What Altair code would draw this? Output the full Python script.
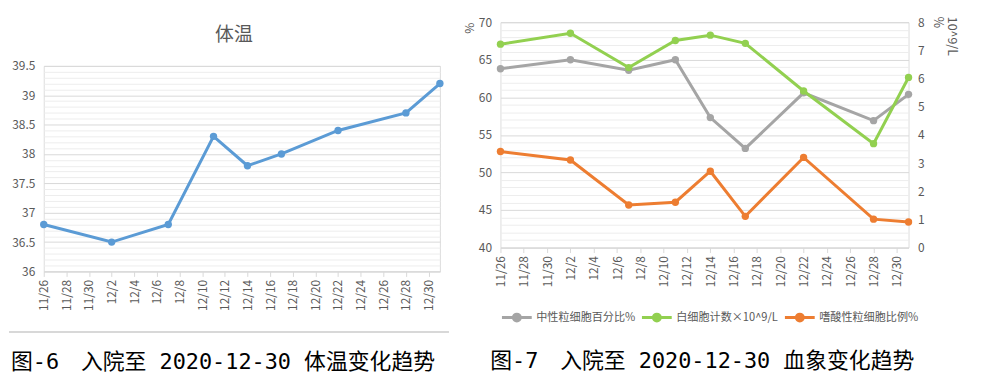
import altair as alt
import pandas as pd

# ---------------- data ----------------
dates = ["2020-11-26", "2020-12-02", "2020-12-07", "2020-12-11", "2020-12-14",
         "2020-12-17", "2020-12-22", "2020-12-28", "2020-12-31"]
temperature = [36.8, 36.5, 36.8, 38.3, 37.8, 38.0, 38.4, 38.7, 39.2]

neutrophil_pct = [63.8, 65.0, 63.6, 65.0, 57.3, 53.2, 60.6, 56.9, 60.4]
wbc_count = [7.22, 7.61, 6.39, 7.35, 7.54, 7.25, 5.56, 3.69, 6.04]
eosinophil_pct = [3.41, 3.11, 1.51, 1.61, 2.71, 1.11, 3.20, 1.01, 0.91]

series_names = ["中性粒细胞百分比%", "白细胞计数×10^9/L", "嗜酸性粒细胞比例%"]
series_colors = ["#A5A5A5", "#92D050", "#ED7D31"]

tick_days = [(11, 26), (11, 28), (11, 30), (12, 2), (12, 4), (12, 6), (12, 8),
             (12, 10), (12, 12), (12, 14), (12, 16), (12, 18), (12, 20),
             (12, 22), (12, 24), (12, 26), (12, 28), (12, 30)]

temp_grid = [round(36 + i * 0.1, 1) for i in range(36)]
blood_grid = list(range(40, 71))
right_ticks = list(range(0, 9))

title_left = "体温"
caption_left = "图-6\u3000入院至 2020-12-30 体温变化趋势"
caption_right = "图-7\u3000入院至 2020-12-30 血象变化趋势"

FONT = "Noto Sans CJK SC"
CAP_FONT = "DejaVu Sans Mono, Noto Sans CJK SC"
GRID_MAJOR = "#D9D9D9"
GRID_MINOR = "#EDEDED"
TXT = "#595959"

temp_df = pd.DataFrame({"date": dates, "temp": temperature})
blood_df = pd.concat([
    pd.DataFrame({"date": dates, "value": neutrophil_pct, "series": series_names[0], "ax": "L"}),
    pd.DataFrame({"date": dates, "value": wbc_count, "series": series_names[1], "ax": "R"}),
    pd.DataFrame({"date": dates, "value": eosinophil_pct, "series": series_names[2], "ax": "R"}),
], ignore_index=True)


def dt(m, d):
    return alt.DateTime(year=2020, month=m, date=d, utc=True)


def x_enc():
    return alt.X(
        "date:T",
        scale=alt.Scale(type="utc", domain=[dt(11, 26), dt(12, 31)]),
        axis=alt.Axis(
            values=[dt(m, d) for m, d in tick_days],
            labelExpr="utcFormat(datum.value, '%-m/%-d')",
            labelAngle=270, labelOverlap=False, grid=False,
            domainColor=GRID_MAJOR, tickColor=GRID_MAJOR, tickSize=5,
            labelPadding=3, title=None,
        ),
    )


def grid_color(step):
    k = 1.0 / step
    return {"condition": {"test": f"abs(datum.value*{k}-round(datum.value*{k}))<0.001",
                          "value": GRID_MAJOR}, "value": GRID_MINOR}


def major_label(step):
    k = 1.0 / step
    return f"abs(datum.value*{k}-round(datum.value*{k}))<0.001 ? format(datum.value, '~g') : ''"


# ---------------- left panel: temperature ----------------
LW, LH = 399, 207
left_line = alt.Chart(temp_df).mark_line(
    color="#5B9BD5", strokeWidth=3,
    point=alt.OverlayMarkDef(filled=True, size=55, color="#5B9BD5"),
).encode(
    x=x_enc(),
    y=alt.Y("temp:Q", scale=alt.Scale(domain=[36, 39.5], nice=False, zero=False),
            axis=alt.Axis(values=temp_grid, grid=True, gridColor=grid_color(0.5),
                          labelExpr=major_label(0.5), labelOverlap=False,
                          ticks=False, domain=False, title=None, labelPadding=9)),
)
left_border = alt.Chart(temp_df).mark_rule(color=GRID_MAJOR, strokeWidth=1).encode(
    x=alt.value(-35), x2=alt.value(LW + 9), y=alt.value(LH + 61)
)
left_panel = alt.layer(left_line, left_border).properties(
    width=LW, height=LH,
    title=alt.Title(title_left, fontSize=19, color=TXT, font=FONT,
                    fontWeight="normal", offset=15, anchor="middle", dx=-8),
)
spacer = alt.Chart(temp_df).mark_rule(opacity=0, strokeWidth=0).encode(
    x=alt.value(0), y=alt.value(0)
).properties(width=1, height=6,
             view=alt.ViewBackground(stroke="transparent", strokeWidth=0, fill="transparent"))

left_col = alt.vconcat(spacer, left_panel, spacing=-3).properties(
    title=alt.Title(caption_left, orient="bottom", anchor="start", fontSize=22,
                    color="#000000", font=CAP_FONT, fontWeight="normal", offset=19,
                    dx=3)
)

# ---------------- right panel: blood ----------------
RW, RH = 411, 227
color_enc = alt.Color(
    "series:N",
    scale=alt.Scale(domain=series_names, range=series_colors),
    legend=alt.Legend(
        orient="bottom", direction="horizontal", title=None,
        symbolType="M-1,0L1,0M0.23,0A0.23,0.23,0,1,1,-0.23,0A0.23,0.23,0,1,1,0.23,0Z",
        symbolSize=900, symbolStrokeWidth=3, labelFontSize=11.2, labelColor=TXT,
        labelFont=FONT, columnPadding=0, labelOffset=3, offset=14, gridAlign="none",
    ),
)
r_left = alt.Chart(blood_df).transform_filter("datum.ax == 'L'").mark_line(
    strokeWidth=3, point=alt.OverlayMarkDef(filled=True, size=55),
).encode(
    x=x_enc(),
    y=alt.Y("value:Q", scale=alt.Scale(domain=[40, 70], nice=False, zero=False),
            axis=alt.Axis(values=blood_grid, grid=True, gridColor=grid_color(5),
                          labelExpr=major_label(5), labelOverlap=False,
                          ticks=False, domain=False, title="%", titleAngle=270,
                          titleAnchor="end", titleFontWeight="normal", titleColor=TXT,
                          titleFontSize=12, labelPadding=9, titlePadding=2)),
    color=color_enc,
)
r_right = alt.Chart(blood_df).transform_filter("datum.ax == 'R'").mark_line(
    strokeWidth=3, point=alt.OverlayMarkDef(filled=True, size=55),
).encode(
    x=x_enc(),
    y=alt.Y("value:Q", scale=alt.Scale(domain=[0, 8], nice=False, zero=False),
            axis=alt.Axis(orient="right", values=right_ticks, grid=False,
                          ticks=False, domain=False, title=["10^9/L", "%"],
                          titleAngle=90, titleAnchor="end", titleAlign="left",
                          titleY=-6, titleFontWeight="normal",
                          titleColor=TXT, titleFontSize=12.5, labelPadding=9,
                          titlePadding=6)),
    color=color_enc,
)
right_panel = alt.layer(r_left, r_right).resolve_scale(y="independent").properties(
    width=RW, height=RH,
    title=alt.Title(caption_right, orient="bottom", anchor="start", fontSize=22,
                    color="#000000", font=CAP_FONT, fontWeight="normal", offset=24,
                    dx=27),
)

chart = alt.hconcat(left_col, right_panel, spacing=13).resolve_scale(
    color="independent"
).properties(
    padding={"left": 0, "top": 6, "right": 24, "bottom": 0}
).configure_view(stroke="transparent", strokeWidth=0).configure(
    font=FONT
).configure_axis(
    labelFont=FONT, labelFontSize=12, labelColor=TXT, titleFont=FONT,
)

chart.save("out.html", embed_options={"renderer": "svg", "actions": False})
